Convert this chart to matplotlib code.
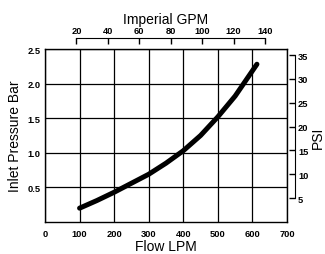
import numpy as np
import matplotlib.pyplot as plt

plt.rcParams['font.family'] = ['Liberation Sans', 'DejaVu Sans']

flow_lpm = [100, 150, 200, 250, 300, 350, 400, 450, 500, 550, 613]
pressure_bar = [0.20, 0.31, 0.43, 0.56, 0.69, 0.85, 1.03, 1.25, 1.52, 1.82, 2.28]

x_ticks = [0, 100, 200, 300, 400, 500, 600, 700]
y_ticks = [0.5, 1.0, 1.5, 2.0, 2.5]
gpm_ticks = [20, 40, 60, 80, 100, 120, 140]
psi_ticks = [5, 10, 15, 20, 25, 30, 35]

LPM_PER_GPM = 4.546
PSI_PER_BAR = 14.504
TICK_FS = 6.7
LABEL_FS = 10

fig = plt.figure(figsize=(3.25, 2.55), dpi=100)
ax = fig.add_axes([45/325, 1 - 223/255, 242/325, 173/255])

ax.set_xlim(0, 700)
ax.set_ylim(0, 2.5)
ax.set_xticks(x_ticks)
ax.set_yticks(y_ticks)
ax.set_yticklabels([f'{v:.1f}' for v in y_ticks])
ax.grid(True, color='black', linewidth=0.9)
ax.tick_params(axis='x', length=0, labelsize=TICK_FS, pad=5)
ax.tick_params(axis='y', length=0, labelsize=TICK_FS, pad=3)
for lab in ax.get_xticklabels() + ax.get_yticklabels():
    lab.set_fontweight('bold')
for s in ax.spines.values():
    s.set_linewidth(1.0)

ax.plot(flow_lpm, pressure_bar, color='black', linewidth=3.6, solid_capstyle='round')

ax.set_xlabel('Flow LPM', fontsize=LABEL_FS, labelpad=1)
ax.set_ylabel('Inlet Pressure Bar', fontsize=LABEL_FS, labelpad=4)

# top axis in imperial gallons
top = ax.twiny()
top.set_xlim(0, 700 / LPM_PER_GPM)
top.set_xticks(gpm_ticks)
top.spines['top'].set_position(('outward', 8))
top.spines['top'].set_bounds(20, 140)
for k in ['left', 'right', 'bottom']:
    top.spines[k].set_visible(False)
top.tick_params(axis='x', direction='in', length=4, width=1, labelsize=TICK_FS, pad=2)
for lab in top.get_xticklabels():
    lab.set_fontweight('bold')
top.set_xlabel('Imperial GPM', fontsize=LABEL_FS, labelpad=2)

# right axis in psi
right = ax.twinx()
right.set_ylim(0, 2.5 * PSI_PER_BAR)
right.set_yticks(psi_ticks)
right.spines['right'].set_position(('outward', 6))
right.spines['right'].set_bounds(5, 35)
for k in ['left', 'top', 'bottom']:
    right.spines[k].set_visible(False)
right.tick_params(axis='y', direction='in', length=4, width=1, labelsize=TICK_FS, pad=2)
for lab in right.get_yticklabels():
    lab.set_fontweight('bold')
right.set_ylabel('PSI', fontsize=LABEL_FS)
right.yaxis.set_label_coords(1.097, 0.49)

fig.savefig('out.png', dpi=100)
